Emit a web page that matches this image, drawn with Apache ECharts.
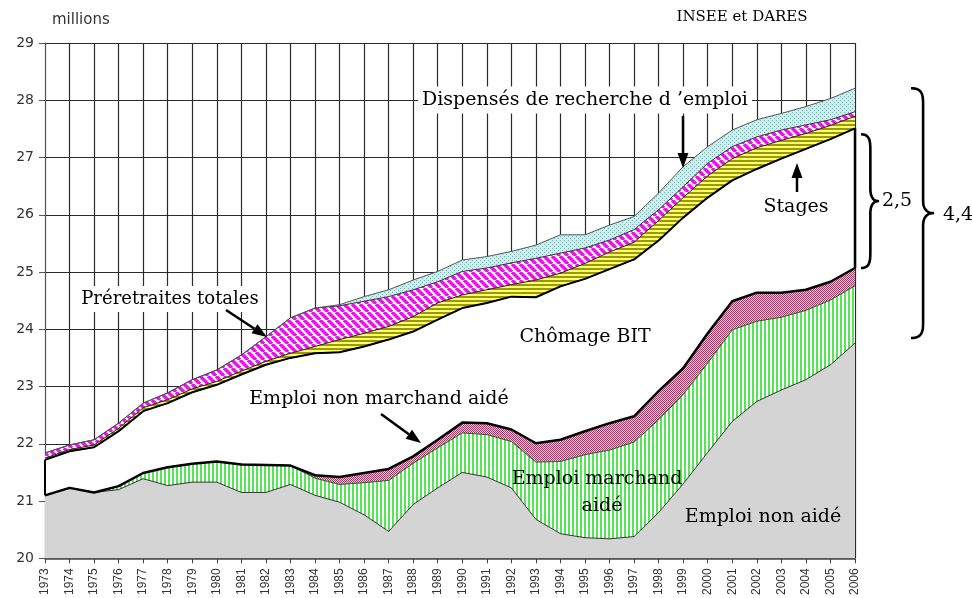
<!DOCTYPE html>
<html>
<head>
<meta charset="utf-8">
<script src="https://cdn.jsdelivr.net/npm/echarts@6/dist/echarts.min.js"></script>
<style>
  html, body { margin: 0; padding: 0; background: #fff; }
  #chart { width: 972px; height: 598px; }
</style>
</head>
<body>
<div id="chart"></div>
<script>
// années
const years = ['1973','1974','1975','1976','1977','1978','1979','1980','1981','1982',
  '1983','1984','1985','1986','1987','1988','1989','1990','1991','1992',
  '1993','1994','1995','1996','1997','1998','1999','2000','2001','2002',
  '2003','2004','2005','2006'];

// millions, couches empilées de bas en haut
const emploiNonAide = [21.10, 21.23, 21.15, 21.20, 21.39, 21.27, 21.33, 21.33, 21.15, 21.15,
  21.29, 21.10, 20.98, 20.76, 20.47, 20.94, 21.23, 21.50, 21.42, 21.23,
  20.68, 20.43, 20.36, 20.34, 20.38, 20.80, 21.30, 21.85, 22.39, 22.74,
  22.94, 23.12, 23.38, 23.76];
const emploiMarchandAide = [0, 0, 0, 0.06, 0.10, 0.32, 0.32, 0.36, 0.49, 0.48,
  0.33, 0.30, 0.31, 0.56, 0.89, 0.72, 0.70, 0.69, 0.74, 0.81,
  1.00, 1.26, 1.45, 1.55, 1.65, 1.62, 1.56, 1.56, 1.60, 1.40,
  1.27, 1.21, 1.13, 1.00];
const emploiNonMarchandAide = [0, 0, 0, 0, 0, 0, 0, 0, 0, 0,
  0, 0.05, 0.13, 0.17, 0.20, 0.12, 0.14, 0.18, 0.20, 0.21,
  0.33, 0.38, 0.41, 0.47, 0.45, 0.50, 0.46, 0.52, 0.50, 0.50,
  0.43, 0.36, 0.32, 0.31];
const chomageBIT = [0.62, 0.64, 0.79, 0.96, 1.08, 1.12, 1.25, 1.34, 1.57, 1.75,
  1.88, 2.13, 2.18, 2.21, 2.26, 2.18, 2.10, 2.00, 2.10, 2.32,
  2.55, 2.68, 2.66, 2.69, 2.74, 2.63, 2.63, 2.37, 2.11, 2.16,
  2.34, 2.46, 2.49, 2.44];
const stages = [0.03, 0.03, 0.04, 0.05, 0.06, 0.06, 0.06, 0.06, 0.06, 0.06,
  0.08, 0.12, 0.22, 0.23, 0.23, 0.26, 0.29, 0.23, 0.23, 0.21,
  0.30, 0.23, 0.27, 0.30, 0.30, 0.35, 0.35, 0.38, 0.38, 0.37,
  0.32, 0.27, 0.24, 0.21];
const preretraites = [0.09, 0.08, 0.09, 0.09, 0.08, 0.12, 0.16, 0.20, 0.28, 0.43,
  0.62, 0.67, 0.59, 0.56, 0.52, 0.47, 0.37, 0.41, 0.38, 0.38,
  0.38, 0.35, 0.27, 0.21, 0.22, 0.19, 0.19, 0.22, 0.21, 0.19,
  0.18, 0.15, 0.10, 0.08];
const dispenses = [0, 0, 0, 0, 0, 0, 0, 0, 0, 0,
  0, 0, 0.02, 0.08, 0.12, 0.17, 0.18, 0.20, 0.20, 0.20,
  0.23, 0.32, 0.23, 0.26, 0.23, 0.29, 0.35, 0.29, 0.29, 0.30,
  0.29, 0.32, 0.37, 0.41];

// motifs de remplissage
function pattern(w, h, draw) {
  const c = document.createElement('canvas');
  c.width = w; c.height = h;
  draw(c.getContext('2d'));
  return { image: c, repeat: 'repeat' };
}
const fillVert = pattern(4, 4, g => {
  g.fillStyle = '#ffffff'; g.fillRect(0, 0, 4, 4);
  g.fillStyle = '#55e655'; g.fillRect(0, 0, 2, 4);
});
const fillRose = pattern(2, 2, g => {
  g.fillStyle = '#f0bcd6'; g.fillRect(0, 0, 2, 2);
  g.fillStyle = '#b0356f'; g.fillRect(0, 0, 1, 1); g.fillRect(1, 1, 1, 1);
});
const fillJaune = pattern(4, 4, g => {
  g.fillStyle = '#ffff66'; g.fillRect(0, 0, 4, 4);
  g.fillStyle = '#999910'; g.fillRect(0, 0, 4, 2);
});
const fillMagenta = pattern(8, 8, g => {
  g.fillStyle = '#ffffff'; g.fillRect(0, 0, 8, 8);
  g.strokeStyle = '#ee11ee'; g.lineWidth = 3.4;
  [-8, 0, 8].forEach(k => {
    g.beginPath(); g.moveTo(k, 0); g.lineTo(k + 8, 8); g.stroke();
  });
});
const fillCyan = pattern(4, 4, g => {
  g.fillStyle = '#c6f1f1'; g.fillRect(0, 0, 4, 4);
  g.fillStyle = '#86acac'; g.fillRect(0, 0, 1, 1); g.fillRect(2, 2, 1, 1);
});

function area(name, data, fill, lineColor, lineWidth) {
  return {
    name: name, type: 'line', stack: 'total', data: data, symbol: 'none',
    areaStyle: { color: fill, opacity: 1 },
    lineStyle: { color: lineColor, width: lineWidth },
    z: 2
  };
}

// lignes noires épaisses au-dessus des aires
const cum = (...arrs) => years.map((_, i) => +arrs.reduce((s, a) => s + a[i], 0).toFixed(3));
const topEmploi = cum(emploiNonAide, emploiMarchandAide, emploiNonMarchandAide);
const topChomage = cum(emploiNonAide, emploiMarchandAide, emploiNonMarchandAide, chomageBIT);
const topTotal = cum(emploiNonAide, emploiMarchandAide, emploiNonMarchandAide, chomageBIT, stages, preretraites, dispenses);

const chart = echarts.init(document.getElementById('chart'));

chart.setOption({
  animation: false,
  grid: { left: 45, right: 117, top: 43, bottom: 39 },
  xAxis: {
    type: 'category', boundaryGap: false, data: years,
    axisLine: { lineStyle: { color: '#444', width: 1.5 } },
    axisTick: { show: true, interval: 0, length: 5, lineStyle: { color: '#444' } },
    axisLabel: { interval: 0, rotate: 90, fontSize: 12, fontFamily: 'Liberation Sans', color: '#333', margin: 10 },
    splitLine: { show: true, interval: 0, lineStyle: { color: '#2a2a2a', width: 1.2 } }
  },
  yAxis: {
    type: 'value', min: 20, max: 29, interval: 1,
    axisLine: { show: true, lineStyle: { color: '#555' } },
    axisTick: { show: true, length: 6, lineStyle: { color: '#555' } },
    axisLabel: { fontSize: 14, fontFamily: 'DejaVu Sans', color: '#333', margin: 11 },
    splitLine: { lineStyle: { color: '#2a2a2a', width: 1.2 } }
  },
  series: [
    area('Emploi non aidé', emploiNonAide, '#d4d4d4', '#333', 1),
    area('Emploi marchand aidé', emploiMarchandAide, fillVert, '#2d5a2d', 1),
    area('Emploi non marchand aidé', emploiNonMarchandAide, fillRose, '#000', 1),
    area('Chômage BIT', chomageBIT, '#ffffff', '#000', 1),
    area('Stages', stages, fillJaune, '#222', 1),
    area('Préretraites totales', preretraites, fillMagenta, '#333', 1),
    area('Dispensés de recherche d’emploi', dispenses, fillCyan, '#555', 1),
    { type: 'line', data: topEmploi, symbol: 'none', z: 5, lineStyle: { color: '#000', width: 2.5 } },
    { type: 'line', data: topChomage, symbol: 'none', z: 5, lineStyle: { color: '#000', width: 2 } }
  ]
});

// annotations
const px = (i, v) => chart.convertToPixel({ gridIndex: 0 }, [i, v]);
const serif = '"DejaVu Serif", "Liberation Serif", serif';

function label(text, x, y, size, bg) {
  const st = {
    text: text, x: x, y: y, font: size + 'px ' + serif, fill: '#000',
    align: 'center', verticalAlign: 'middle', textAlign: 'center', textVerticalAlign: 'middle'
  };
  if (bg) { st.backgroundColor = '#fff'; st.padding = [4, 4]; }
  return { type: 'text', z: 100, style: st };
}
function arrow(x1, y1, x2, y2) {
  const dx = x2 - x1, dy = y2 - y1, len = Math.hypot(dx, dy);
  const ux = dx / len, uy = dy / len, hl = 15, hw = 5.5;
  const bx = x2 - ux * hl, by = y2 - uy * hl;
  return [
    { type: 'line', z: 100, shape: { x1: x1, y1: y1, x2: bx, y2: by }, style: { stroke: '#000', lineWidth: 2.5 } },
    { type: 'polygon', z: 100, shape: { points: [[x2, y2], [bx - uy * hw, by + ux * hw], [bx + uy * hw, by - ux * hw]] }, style: { fill: '#000' } }
  ];
}
// accolade "}" en polyligne (courbes de Bézier échantillonnées)
function cubic(p0, p1, p2, p3) {
  const pts = [];
  for (let k = 0; k <= 12; k++) {
    const t = k / 12, s = 1 - t;
    pts.push([
      s * s * s * p0[0] + 3 * s * s * t * p1[0] + 3 * s * t * t * p2[0] + t * t * t * p3[0],
      s * s * s * p0[1] + 3 * s * s * t * p1[1] + 3 * s * t * t * p2[1] + t * t * t * p3[1]
    ]);
  }
  return pts;
}
function brace(x, y1, y2, w) {
  const m = (y1 + y2) / 2, c = x + w * 0.55, tip = x + w;
  const pts = [].concat(
    cubic([x, y1], [x + w * 0.5, y1], [c, y1 + 6], [c, y1 + 16]),
    cubic([c, m - 12], [c, m - 4], [x + w * 0.75, m], [tip, m]),
    cubic([tip, m], [x + w * 0.75, m], [c, m + 4], [c, m + 12]),
    cubic([c, y2 - 16], [c, y2 - 6], [x + w * 0.5, y2], [x, y2])
  );
  return { type: 'polyline', z: 100, shape: { points: pts }, style: { stroke: '#000', lineWidth: 2.6, fill: null, lineJoin: 'round' } };
}

const last = years.length - 1;
const pL0 = px(0, emploiNonAide[0]), pL1 = px(0, topChomage[0]);
const pR0 = px(last, topEmploi[last]), pR1 = px(last, topChomage[last]);
const b25a = px(last, topChomage[last]), b25b = px(last, topEmploi[last]);
const b44a = px(last, topTotal[last]), b44b = px(last, emploiNonAide[last]);

const graphics = [
  { type: 'line', z: 50, shape: { x1: pL0[0], y1: pL0[1], x2: pL1[0], y2: pL1[1] }, style: { stroke: '#000', lineWidth: 2 } },
  { type: 'line', z: 50, shape: { x1: pR0[0], y1: pR0[1], x2: pR1[0], y2: pR1[1] }, style: { stroke: '#000', lineWidth: 2.5 } },
  { type: 'text', z: 100, style: { text: 'millions', x: 52, y: 20, font: '15px "DejaVu Sans"', fill: '#333', verticalAlign: 'middle', textVerticalAlign: 'middle' } },
  label('INSEE et DARES', 742, 17, 15, false),
  label('Dispensés de recherche d ’emploi', 585, 100, 19, true),
  label('Stages', 796, 207, 19, false),
  label('Préretraites totales', 170, 299, 18, true),
  label('Chômage BIT', 585, 337, 19, false),
  label('Emploi non marchand aidé', 379, 399, 19, false),
  label('Emploi marchand', 597, 479, 19, false),
  label('aidé', 602, 506, 19, false),
  label('Emploi non aidé', 763, 517, 19, false),
  label('2,5', 897, 201, 19, false),
  label('4,4', 958, 215, 19, false),
  brace(b25a[0] + 6, b25a[1] + 6, b25b[1], 17),
  brace(b44a[0] + 56, b44a[1], b44b[1] - 5, 22)
].concat(
  arrow(683, 116, 683, 168),
  arrow(797, 192, 797, 163),
  arrow(226, 310, 267, 337),
  arrow(381, 414, 421, 443)
);

chart.setOption({ graphic: graphics });
</script>
</body>
</html>
